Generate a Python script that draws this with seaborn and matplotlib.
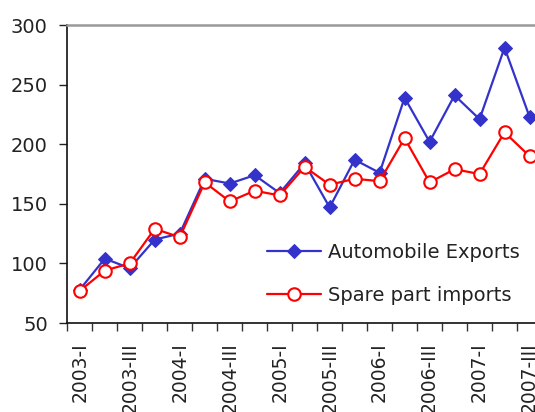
import matplotlib
matplotlib.use("Agg")
import matplotlib.pyplot as plt
import numpy as np
import pandas as pd
import seaborn as sns

years = ["2003", "2004", "2005", "2006", "2007"]
roman = ["I", "II", "III", "IV"]
quarters = [f"{y}-{r}" for y in years for r in roman][:19]

automobile_exports = [78, 104, 96, 120, 125, 171, 167, 174, 159, 184,
                      147, 187, 176, 239, 202, 241, 221, 281, 223]
spare_part_imports = [77, 94, 100, 129, 122, 168, 152, 161, 157, 181,
                      166, 171, 169, 205, 168, 179, 175, 210, 190]

y_ticks = [50, 100, 150, 200, 250, 300]

df = pd.DataFrame({
    "quarter": quarters,
    "Automobile Exports": automobile_exports,
    "Spare part imports": spare_part_imports,
})

sns.set_theme(style="white")
plt.rcParams["font.family"] = ["DejaVu Sans"]

fig = plt.figure(figsize=(5.35, 4.12), dpi=100)
ax = fig.add_axes([0.1258, 0.216, 0.8873, 0.7233])

blue = "#3333CC"
red = "#FF0000"

sns.lineplot(data=df, x="quarter", y="Automobile Exports", sort=False, ax=ax,
             color=blue, linewidth=1.6, marker="D", markersize=7.5,
             markerfacecolor=blue, markeredgecolor=blue,
             label="Automobile Exports")
sns.lineplot(data=df, x="quarter", y="Spare part imports", sort=False, ax=ax,
             color=red, linewidth=1.6, marker="o", markersize=9,
             markerfacecolor="white", markeredgecolor=red, markeredgewidth=1.5,
             label="Spare part imports")

ax.set_xlim(-0.5, len(quarters) - 0.5)
ax.set_ylim(50, 300)
ax.set_yticks(y_ticks)
ax.set_yticklabels([str(v) for v in y_ticks])

pos = np.arange(len(quarters))
ax.set_xticks(pos[::2])
ax.set_xticklabels(quarters[::2], rotation=90)
ax.set_xticks(np.arange(len(quarters) + 1) - 0.5, minor=True)
ax.tick_params(axis="x", which="major", length=0, pad=14, labelsize=13.5,
               colors="#222222")
ax.tick_params(axis="x", which="minor", length=6, width=1, color="#333333",
               direction="out", bottom=True)
ax.tick_params(axis="y", which="major", length=6, width=1, color="#222222",
               direction="out", left=True, pad=8, labelsize=14,
               labelcolor="#222222")

ax.set_xlabel("")
ax.set_ylabel("")

for side in ["left", "bottom"]:
    ax.spines[side].set_color("#111111")
    ax.spines[side].set_linewidth(1.2)
ax.spines["top"].set_color("#999999")
ax.spines["top"].set_linewidth(1.8)
ax.spines["right"].set_visible(False)

leg = ax.legend(loc="lower left", bbox_to_anchor=(0.42, 0.06), frameon=False,
                fontsize=14, handlelength=2.8, handletextpad=0.35,
                labelspacing=1.25, borderpad=0, borderaxespad=0)
for t in leg.get_texts():
    t.set_color("#222222")

fig.savefig("out.png", dpi=100)
